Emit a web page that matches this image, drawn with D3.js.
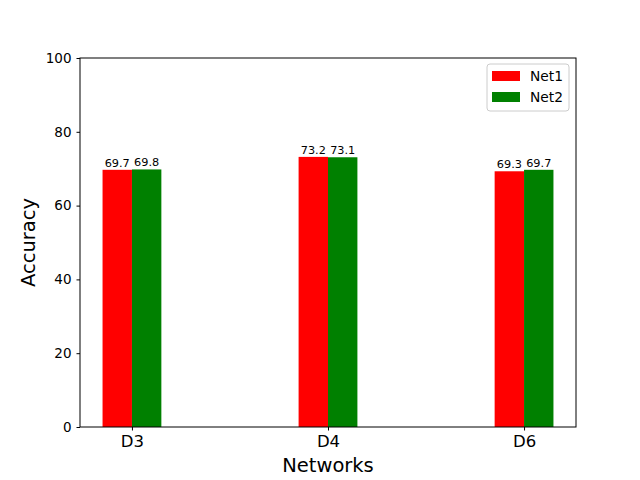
<!DOCTYPE html>
<meta charset="utf-8">
<style>
body { margin: 0; background: #fff; }
svg text { font-family: "DejaVu Sans", sans-serif; fill: #000; }
</style>
<svg width="640" height="480"></svg>
<script src="https://d3js.org/d3.v7.min.js"></script>
<script>
// data
var categories = ["D3", "D4", "D6"]
var net1 = [69.7, 73.2, 69.3]
var net2 = [69.8, 73.1, 69.7]
var seriesNames = ["Net1", "Net2"]
var seriesColors = ["red", "green"]
var yTicks = [0, 20, 40, 60, 80, 100]

// plot area (window.top is read-only, so no bare "top")
var plotL = 80, plotR = 576, plotT = 58, plotB = 427
var barW = 0.15

var svg = d3.select("svg")

var x = d3.scaleLinear().domain([-0.265, 2.265]).range([plotL, plotR])
var y = d3.scaleLinear().domain([0, 100]).range([plotB, plotT])

var series = [net1, net2]
series.forEach(function (vals, s) {
  var g = svg.append("g")
  var off = s === 0 ? -barW : 0
  g.selectAll("rect").data(vals).enter().append("rect")
    .attr("x", function (d, i) { return x(i + off) })
    .attr("width", function () { return x(barW) - x(0) })
    .attr("y", function (d) { return y(d) })
    .attr("height", function (d) { return y(0) - y(d) })
    .attr("fill", seriesColors[s])
  g.selectAll("text").data(vals).enter().append("text")
    .attr("x", function (d, i) { return x(i + off + barW / 2) })
    .attr("y", function (d) { return y(d) - 3 })
    .attr("text-anchor", "middle")
    .attr("font-size", 11.3)
    .text(function (d) { return d.toFixed(1) })
})

// frame
svg.append("rect").attr("x", plotL).attr("y", plotT)
  .attr("width", plotR - plotL).attr("height", plotB - plotT)
  .attr("fill", "none").attr("stroke", "#000").attr("stroke-width", 1)

var yAxis = svg.append("g").attr("transform", "translate(" + plotL + ",0)")
  .call(d3.axisLeft(y).tickValues(yTicks).tickSize(3.5).tickPadding(5))
yAxis.select(".domain").remove()
yAxis.selectAll("text").attr("font-size", 13.5).attr("font-family", "DejaVu Sans")

var xAxis = svg.append("g").attr("transform", "translate(0," + plotB + ")")
  .call(d3.axisBottom(x).tickValues([0, 1, 2]).tickFormat(function (i) { return categories[i] }).tickSize(3.5).tickPadding(5))
xAxis.select(".domain").remove()
xAxis.selectAll("text").attr("font-size", 16.5).attr("font-family", "DejaVu Sans")

svg.append("text").attr("x", (plotL + plotR) / 2).attr("y", 472)
  .attr("text-anchor", "middle").attr("font-size", 19.5).text("Networks")
svg.append("text").attr("transform", "translate(35," + (plotT + plotB) / 2 + ") rotate(-90)")
  .attr("text-anchor", "middle").attr("font-size", 19.5).text("Accuracy")

// legend
var lg = svg.append("g").attr("transform", "translate(487,64)")
lg.append("rect").attr("width", 82).attr("height", 47).attr("rx", 3)
  .attr("fill", "#fff").attr("stroke", "#ccc").attr("stroke-width", 1)
seriesNames.forEach(function (n, i) {
  lg.append("rect").attr("x", 5).attr("y", 7 + i * 21).attr("width", 28).attr("height", 10)
    .attr("fill", seriesColors[i])
  lg.append("text").attr("x", 43).attr("y", 17 + i * 21).attr("font-size", 13.8).text(n)
})
</script>
